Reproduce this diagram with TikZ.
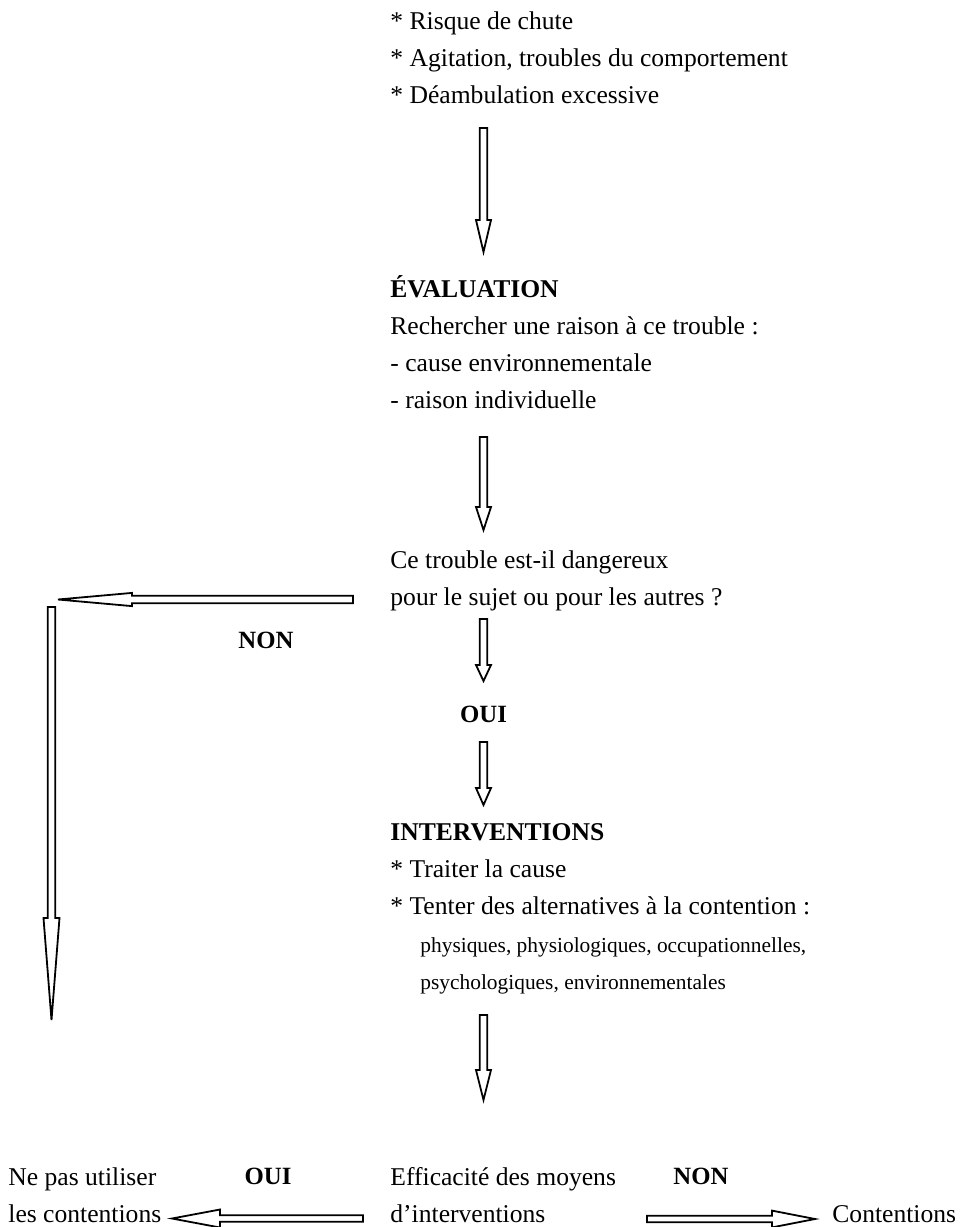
\documentclass[tikz,border=0pt]{standalone}
\usepackage{fontspec}
\setmainfont{Liberation Serif}
\usetikzlibrary{calc}

% hollow block arrow: from, to, half shaft, head length, half head
\newcommand{\blockarrow}[5]{%
  \draw[hollow] let \p1=(#1), \p2=(#2),
    \n1={veclen(\x2-\x1,\y2-\y1)}, \n2={atan2(\y2-\y1,\x2-\x1)} in
    [shift={(\p1)}, rotate=\n2]
    (0pt,-#3) -- ({\n1*1pt-#4},-#3) -- ({\n1*1pt-#4},-#5) -- ({\n1*1pt},0pt)
    -- ({\n1*1pt-#4},#5) -- ({\n1*1pt-#4},#3) -- (0pt,#3) -- cycle;}

\tikzset{
  hollow/.style={draw, line width=0.9pt, fill=white},
  txt/.style={anchor=base west, inner sep=0pt, align=left,
    font=\fontsize{12.8}{18.5}\selectfont},
  smalltxt/.style={txt, font=\fontsize{10.7}{18.5}\selectfont},
  answer/.style={anchor=base, inner sep=0pt, font=\fontsize{12.4}{14}\selectfont\bfseries},
}

\begin{document}
\begin{tikzpicture}[x=0.5pt,y=-0.5pt]
  \useasboundingbox (0,0) rectangle (973,1227);

  % base anchor = baseline of the last line
  \node[txt] (motif) at (390,103) {* Risque de chute\\* Agitation, troubles du comportement\\* Déambulation excessive};
  \node[txt] (eval) at (390,408) {\textbf{ÉVALUATION}\\Rechercher une raison à ce trouble :\\- cause environnementale\\- raison individuelle};
  \node[txt] (danger) at (390,605) {Ce trouble est-il dangereux\\pour le sujet ou pour les autres ?};
  \node[answer] (non1) at (266,648) {NON};
  \node[answer] (oui1) at (483.5,722) {OUI};
  \node[txt] (interv) at (390,914) {\textbf{INTERVENTIONS}\\* Traiter la cause\\* Tenter des alternatives à la contention :};
  \node[smalltxt] (altern) at (420,989) {physiques, physiologiques, occupationnelles,\\psychologiques, environnementales};
  \node[txt] (nepas) at (8,1222) {Ne pas utiliser\\les contentions};
  \node[answer] (oui2) at (268,1184) {OUI};
  \node[txt] (effic) at (390,1222) {Efficacité des moyens\\d’interventions};
  \node[answer] (non2) at (701,1184) {NON};
  \node[txt] (cont) at (832,1222) {Contentions};

  % arrow ends
  \coordinate (a1s) at (483.5,128);  \coordinate (a1e) at (483.5,252);
  \coordinate (a2s) at (483.5,437);  \coordinate (a2e) at (483.5,530);
  \coordinate (a3s) at (353,599.5);  \coordinate (a3e) at (58,599.5);
  \coordinate (a4s) at (51.5,607);   \coordinate (a4e) at (51.5,1020);
  \coordinate (a5s) at (483.5,619);  \coordinate (a5e) at (483.5,681);
  \coordinate (a6s) at (483.5,742);  \coordinate (a6e) at (483.5,805);
  \coordinate (a7s) at (483.5,1015); \coordinate (a7e) at (483.5,1100);
  \coordinate (a8s) at (363,1218.5); \coordinate (a8e) at (172,1218.5);
  \coordinate (a9s) at (647,1219);   \coordinate (a9e) at (815,1219);

  \blockarrow{a1s}{a1e}{1.9pt}{16pt}{3.75pt}
  \blockarrow{a2s}{a2e}{1.9pt}{11.5pt}{3.75pt}
  \blockarrow{a3s}{a3e}{1.9pt}{37pt}{3.3pt}
  \blockarrow{a4s}{a4e}{1.9pt}{51pt}{4pt}
  \blockarrow{a5s}{a5e}{1.9pt}{8pt}{3.75pt}
  \blockarrow{a6s}{a6e}{1.9pt}{8.5pt}{3.75pt}
  \blockarrow{a7s}{a7e}{1.9pt}{15pt}{3.75pt}
  \blockarrow{a8s}{a8e}{1.6pt}{24pt}{4.5pt}
  \blockarrow{a9s}{a9e}{1.6pt}{21.5pt}{4.2pt}
\end{tikzpicture}
\end{document}
